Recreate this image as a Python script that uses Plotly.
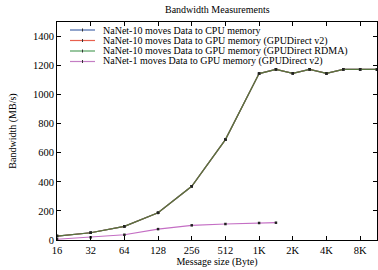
import math
import plotly.graph_objects as go

# ---- data ----
msg_size = [16, 32, 64, 128, 256, 512, 1024, 1448, 2048, 2896, 4096, 5793, 8192, 11585]
nanet10_cpu = [27, 50, 94, 187, 370, 691, 1145, 1174, 1147, 1174, 1146, 1174, 1174, 1174]
nanet10_gpu_v2 = [27, 50, 94, 187, 370, 691, 1145, 1174, 1147, 1174, 1146, 1174, 1174, 1174]
nanet10_gpu_rdma = [27, 50, 94, 187, 370, 691, 1145, 1174, 1147, 1174, 1146, 1174, 1174, 1174]
nanet1_size = [16, 32, 64, 128, 256, 512, 1024, 1448]
nanet1_gpu_v2 = [5, 18, 36, 75, 101, 110, 117, 119]

series_names = [
    "NaNet-10 moves Data to CPU memory",
    "NaNet-10 moves Data to GPU memory (GPUDirect v2)",
    "NaNet-10 moves Data to GPU memory (GPUDirect RDMA)",
    "NaNet-1 moves Data to GPU memory (GPUDirect v2)",
]
legend_colors = ["#4868aa", "#e8604e", "#52a05e", "#c47ec4"]
line_colors = ["#4868aa", "#c06050", "#56753f", "#c46ec4"]

x_tickvals = [16, 32, 64, 128, 256, 512, 1024, 2048, 4096, 8192]
x_ticktext = ["16", "32", "64", "128", "256", "512", "1K", "2K", "4K", "8K"]
y_tickvals = [0, 200, 400, 600, 800, 1000, 1200, 1400]

W, H = 378, 270
ML, MR, MT, MB = 57, 1, 22, 30
FONT = "'Liberation Serif', 'Times New Roman', serif"

fig = go.Figure()
xs = [msg_size, msg_size, msg_size, nanet1_size]
ys = [nanet10_cpu, nanet10_gpu_v2, nanet10_gpu_rdma, nanet1_gpu_v2]
for i in range(4):
    fig.add_trace(go.Scatter(
        x=xs[i], y=ys[i], mode="lines+markers", name=series_names[i],
        line=dict(color=line_colors[i], width=1.2),
        marker=dict(symbol="square", size=2.5, color="#222222"),
        showlegend=False,
    ))

# hand-built legend (gnuplot style, tight spacing)
pw = W - ML - MR
ph = H - MT - MB
def px(x):
    return (x - ML) / pw
def py(y):
    return 1 - (y - MT) / ph

rows = [30, 40.5, 51, 61.5]
for i, name in enumerate(series_names):
    fig.add_shape(type="line", xref="paper", yref="paper",
                  x0=px(70), x1=px(95), y0=py(rows[i]), y1=py(rows[i]),
                  line=dict(color=legend_colors[i], width=1.2))
    fig.add_shape(type="line", xref="paper", yref="paper",
                  x0=px(82.5), x1=px(82.5), y0=py(rows[i] - 1.5), y1=py(rows[i] + 1.5),
                  line=dict(color="#333333", width=1))
    fig.add_annotation(text=name, xref="paper", yref="paper",
                       x=px(101), y=py(rows[i]), xanchor="left", yanchor="middle",
                       showarrow=False, font=dict(family=FONT, size=10, color="black"))

fig.update_layout(
    width=W, height=H,
    margin=dict(l=ML, r=MR, t=MT, b=MB),
    paper_bgcolor="white", plot_bgcolor="white",
    font=dict(family=FONT, size=10, color="black"),
    title=dict(text="Bandwidth Measurements", x=0.575, xanchor="center",
               y=1 - 9 / H, yanchor="middle", font=dict(family=FONT, size=10)),
)
fig.update_xaxes(
    type="log", range=[math.log10(16), math.log10(11585)],
    tickvals=x_tickvals, ticktext=x_ticktext,
    ticks="inside", ticklen=4, tickcolor="black",
    showline=True, linecolor="black", linewidth=1, mirror="ticks",
    showgrid=False, zeroline=False,
    title=dict(text="Message size (Byte)", standoff=0, font=dict(family=FONT, size=10)),
    tickfont=dict(family=FONT, size=10.5),
)
fig.update_yaxes(
    range=[0, 1500], tickvals=y_tickvals,
    ticks="inside", ticklen=4, tickcolor="black",
    showline=True, linecolor="black", linewidth=1, mirror="ticks",
    showgrid=False, zeroline=False,
    title=dict(text="Bandwidth (MB/s)", standoff=14, font=dict(family=FONT, size=10)),
    tickfont=dict(family=FONT, size=10.5),
)

fig.write_html("out.html")
